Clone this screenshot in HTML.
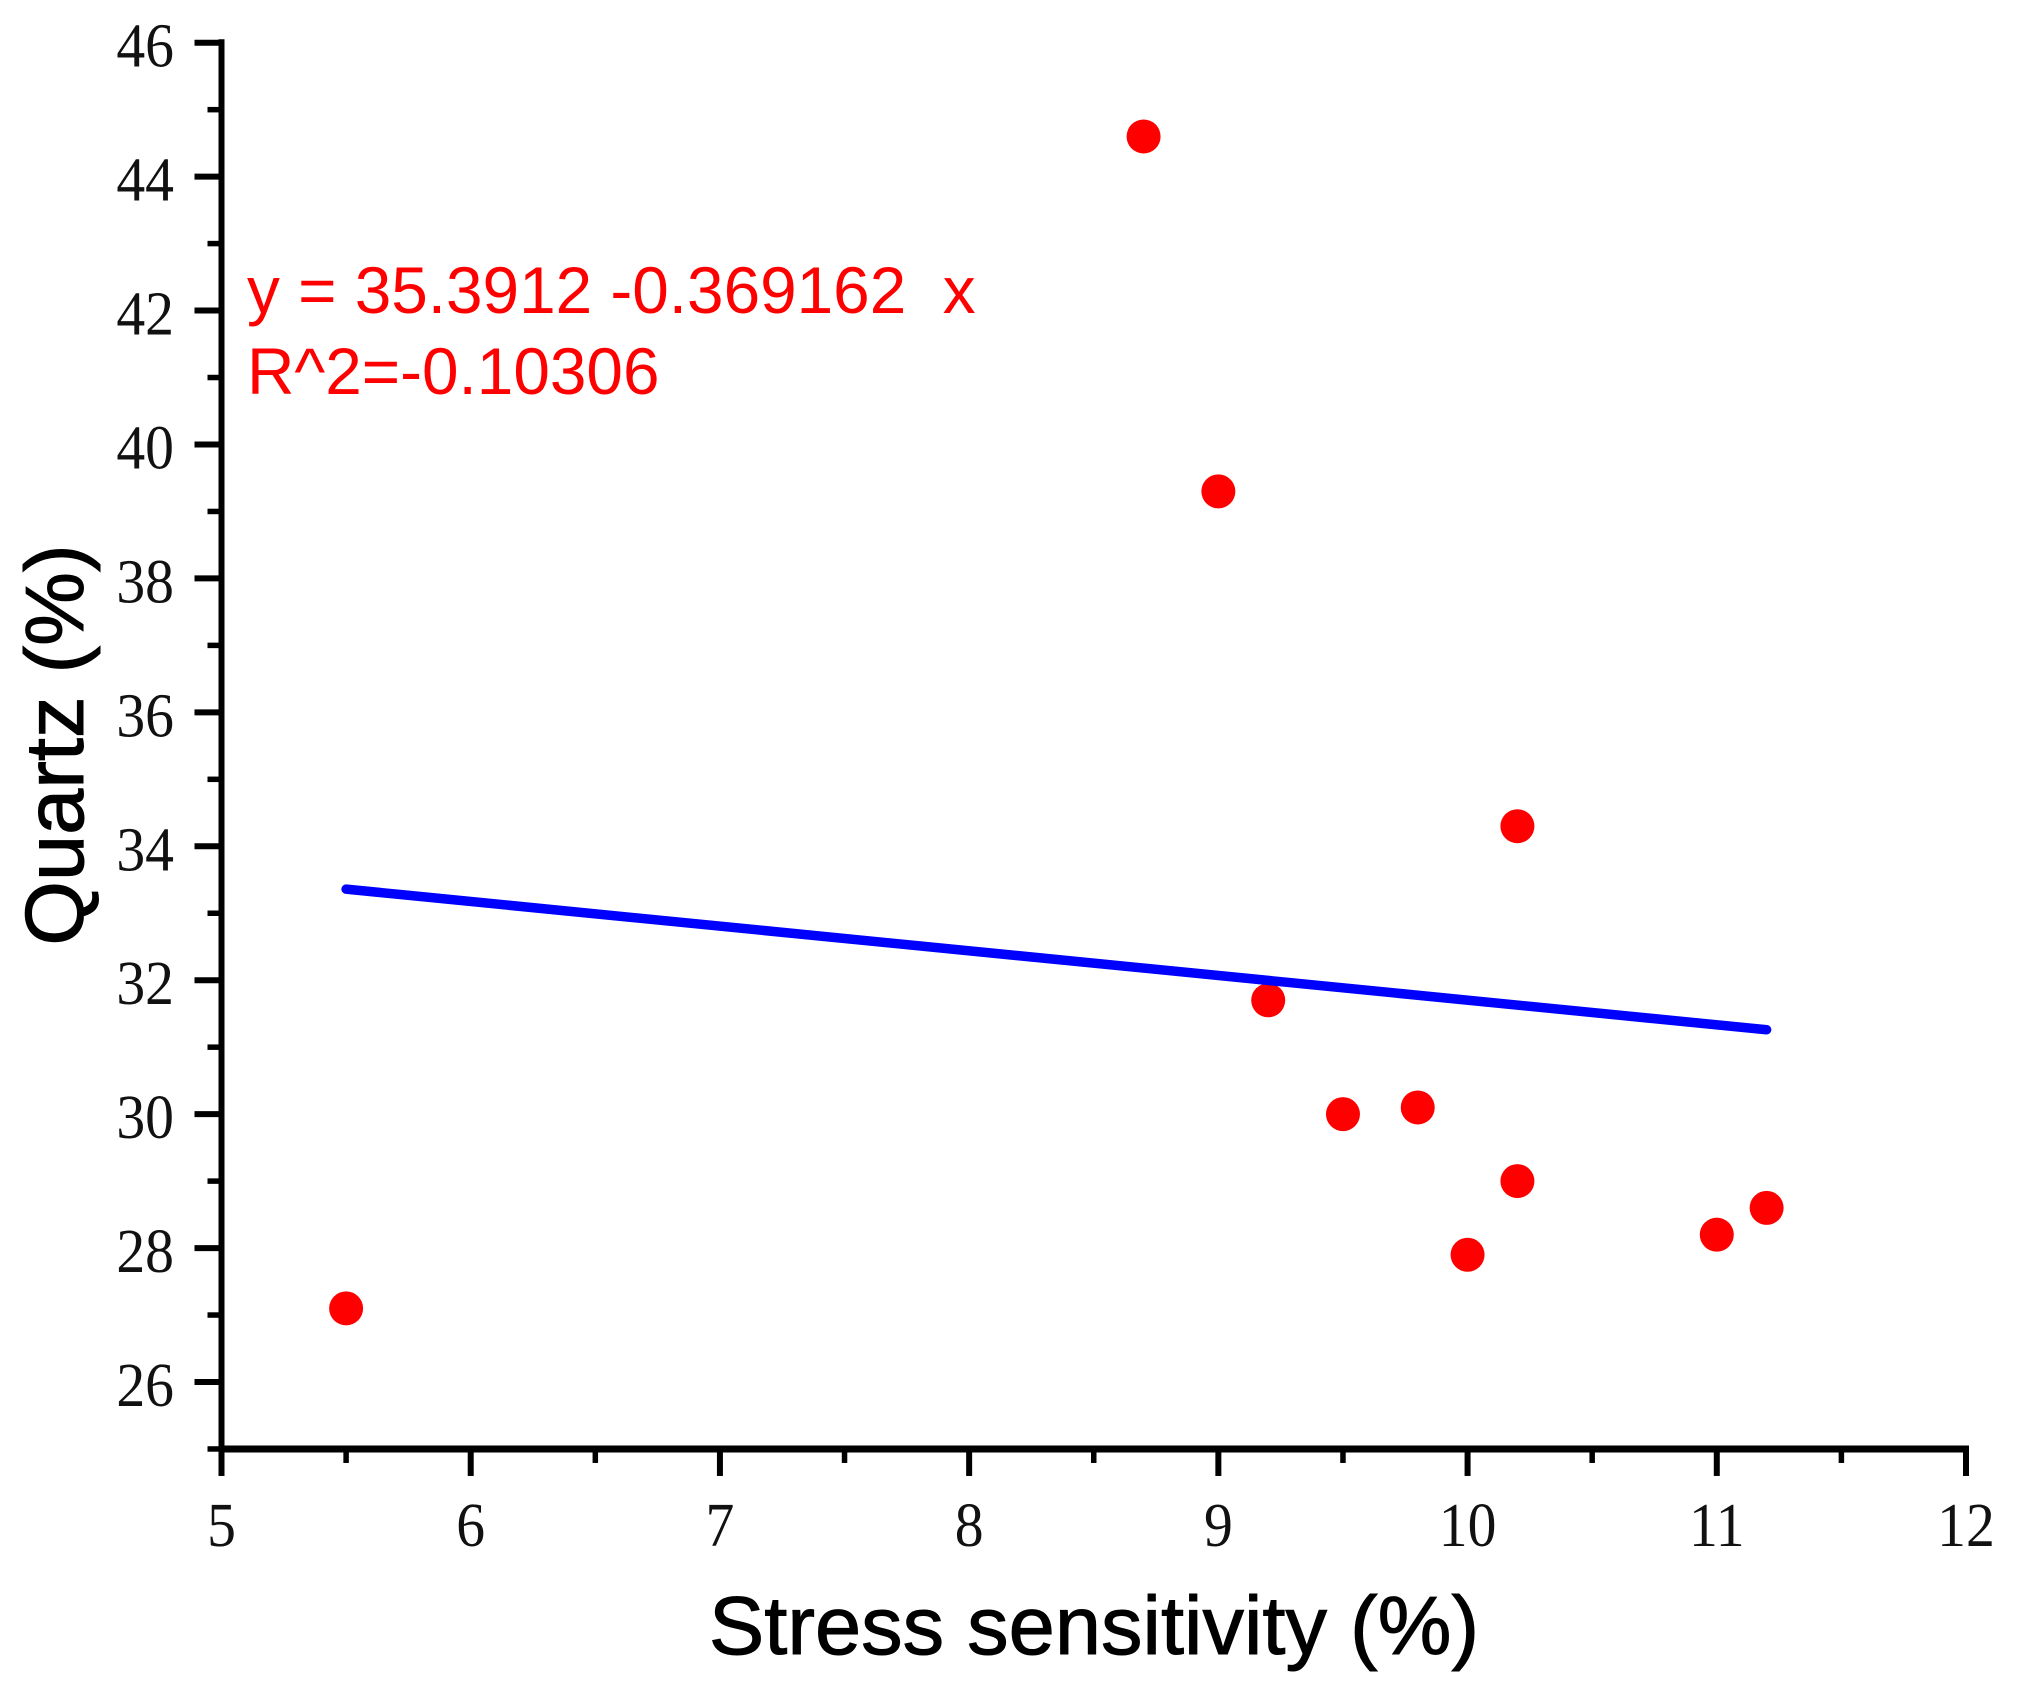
<!DOCTYPE html>
<html lang="en">
<head>
<meta charset="utf-8">
<title>Quartz vs Stress sensitivity</title>
<style>
html,body{margin:0;padding:0;background:#fff;}
svg{display:block;}
.tick-label{font-family:"Liberation Serif",serif;font-size:62px;fill:#111;}
.axis-title{font-family:"Liberation Sans",sans-serif;font-size:83px;fill:#000;stroke:#000;stroke-width:1;}
.annotation{font-family:"Liberation Sans",sans-serif;font-size:65.7px;fill:#ff0000;white-space:pre;}
</style>
</head>
<body>
<svg id="chart" xmlns="http://www.w3.org/2000/svg" width="2022" height="1699" viewBox="0 0 2022 1699">
  <rect x="0" y="0" width="2022" height="1699" fill="#ffffff"/>
  <g id="marks-points"></g>
  <g id="marks-fit"></g>
  <g id="axes"></g>
  <text class="annotation" x="247" y="313" xml:space="preserve">y = 35.3912 -0.369162  x</text>
  <text class="annotation" x="247" y="394">R^2=-0.10306</text>
  <text class="axis-title" x="1094" y="1654" text-anchor="middle">Stress sensitivity (%)</text>
  <text class="axis-title" x="0" y="0" text-anchor="middle" transform="translate(83,745) rotate(-90)">Quartz (%)</text>
</svg>
<script>
const xValues = [8.7, 9, 10.2, 9.2, 9.5, 9.8, 10.2, 11.2, 11, 10, 5.5];
const yValues = [44.6, 39.3, 34.3, 31.7, 30, 30.1, 29, 28.6, 28.2, 27.9, 27.1];
const fitX = [5.5, 11.2];
const fitY = [33.36, 31.26];
const xTickValues = [5, 6, 7, 8, 9, 10, 11, 12];
const xMinorTickValues = [5.5, 6.5, 7.5, 8.5, 9.5, 10.5, 11.5];
const yTickValues = [26, 28, 30, 32, 34, 36, 38, 40, 42, 44, 46];
const yMinorTickValues = [25, 27, 29, 31, 33, 35, 37, 39, 41, 43, 45];

const NS = 'http://www.w3.org/2000/svg';
const xScale = v => 221.5 + (v - 5) * (1966 - 221.5) / 7;
const yScale = v => 42.7 + (46 - v) * (1382 - 42.7) / 20;

function make(tag, parent, attrs) {
  const el = document.createElementNS(NS, tag);
  for (const k in attrs) el.setAttribute(k, attrs[k]);
  parent.appendChild(el);
  return el;
}

const axes = document.getElementById('axes');
const pointsGroup = document.getElementById('marks-points');
const fitGroup = document.getElementById('marks-fit');

xValues.forEach((x, i) => {
  const c = make('circle', pointsGroup, {cx: xScale(x), cy: yScale(yValues[i]), r: 17, fill: '#ff0000'});
  
  
});

const fitLine = make('line', fitGroup, {
  x1: xScale(fitX[0]), y1: yScale(fitY[0]),
  x2: xScale(fitX[1]), y2: yScale(fitY[1]),
  stroke: '#0000ff', 'stroke-width': 9.5, 'stroke-linecap': 'round'
});



const axisY = make('line', axes, {x1: xScale(5), y1: yScale(46) - 3.5, x2: xScale(5), y2: yScale(25) + 3, stroke: '#000', 'stroke-width': 6});



const axisX = make('line', axes, {x1: xScale(5), y1: yScale(25), x2: xScale(12) + 3, y2: yScale(25), stroke: '#000', 'stroke-width': 7});



xTickValues.forEach(v => {
  const t = make('line', axes, {x1: xScale(v), y1: yScale(25), x2: xScale(v), y2: yScale(25) + 27, stroke: '#000', 'stroke-width': 6});
  
  
  const l = make('text', axes, {'text-anchor': 'middle', class: 'tick-label', transform: 'translate(' + xScale(v) + ',1546) scale(0.93,1)'});
  
  
  l.textContent = v;
});

xMinorTickValues.forEach(v => {
  const t = make('line', axes, {x1: xScale(v), y1: yScale(25), x2: xScale(v), y2: yScale(25) + 14, stroke: '#000', 'stroke-width': 5.5});
  
  
});

yTickValues.forEach(v => {
  const t = make('line', axes, {x1: xScale(5) - 27, y1: yScale(v), x2: xScale(5), y2: yScale(v), stroke: '#000', 'stroke-width': 6});
  
  
  const l = make('text', axes, {'text-anchor': 'end', class: 'tick-label', transform: 'translate(174,' + (yScale(v) + 24) + ') scale(0.93,1)'});
  
  
  l.textContent = v;
});

yMinorTickValues.forEach(v => {
  const t = make('line', axes, {x1: xScale(5) - 14, y1: yScale(v), x2: xScale(5), y2: yScale(v), stroke: '#000', 'stroke-width': 5.5});
  
  
});
</script>
</body>
</html>
